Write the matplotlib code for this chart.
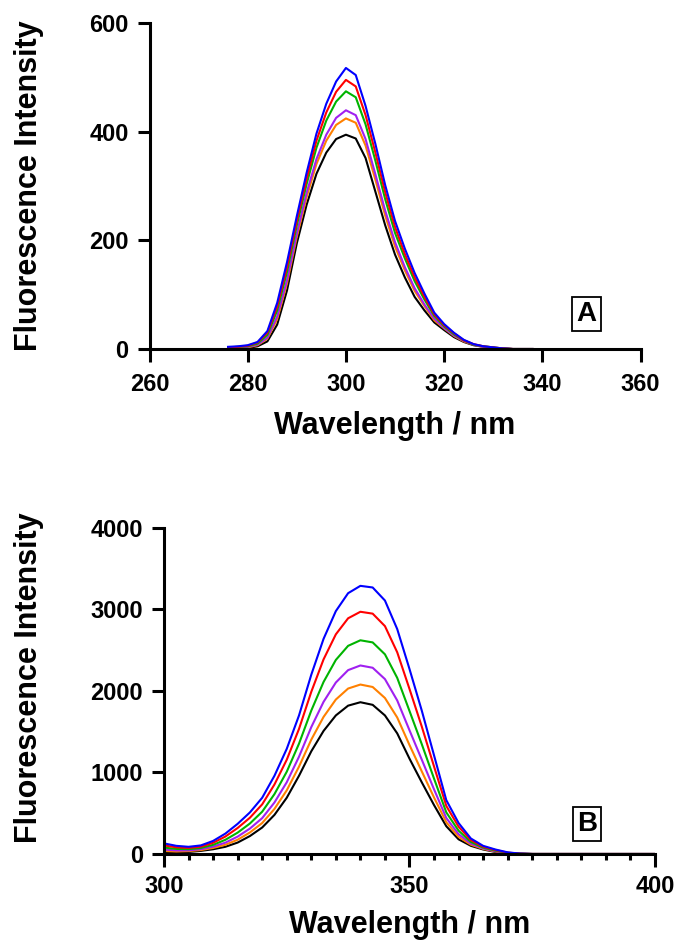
"""
Fluorescence emission spectra, panel A (275-337 nm) and panel B (300-400 nm).
"""
import numpy as np
import matplotlib

matplotlib.use("Agg")
import matplotlib.pyplot as plt
from matplotlib.ticker import MultipleLocator

plt.rcParams["font.family"] = ["Liberation Sans", "DejaVu Sans"]
plt.rcParams["font.weight"] = "bold"

# panel A, sampled every 2 nm
wavelength_a = np.arange(276, 339, 2)
black_a = [1, 1, 2, 5, 14, 45, 108, 195, 266, 323, 362, 387, 395,
           388, 352, 290, 228, 174, 132, 96, 71, 49, 35, 22, 13, 7, 4, 2, 1, 0, 0, 0]
orange_a = [2, 2, 3, 7, 19, 55, 121, 207, 280, 341, 384, 413, 425,
            417, 375, 312, 246, 189, 145, 107, 79, 53, 38, 24, 14, 8, 4, 2, 1, 0, 0, 0]
purple_a = [2, 3, 4, 8, 21, 60, 127, 213, 288, 350, 395, 426, 440,
            431, 387, 322, 255, 197, 151, 112, 82, 56, 39, 25, 15, 8, 4, 2, 1, 0, 0, 0]
green_a = [3, 4, 5, 10, 26, 71, 142, 228, 304, 371, 421, 456, 475,
           464, 414, 347, 276, 214, 167, 125, 91, 61, 42, 27, 16, 8, 5, 3, 1, 0, 0, 0]
red_a = [3, 4, 6, 12, 30, 78, 151, 236, 314, 384, 436, 474, 496,
         484, 431, 362, 289, 225, 175, 132, 96, 64, 44, 29, 16, 9, 5, 3, 1, 0, 0, 0]
blue_a = [4, 5, 7, 13, 33, 85, 160, 245, 325, 397, 452, 493, 518,
          505, 448, 378, 302, 236, 185, 140, 102, 67, 46, 30, 17, 9, 5, 3, 1, 0, 0, 0]

# panel B, sampled every 2.5 nm
wavelength_b = np.arange(300, 400.1, 2.5)
black_b = [20, 18, 25, 38, 58, 88, 140, 220, 325, 480, 690, 960, 1260, 1510,
           1700, 1820, 1862, 1830, 1700, 1480, 1170, 880, 600, 340, 180, 100,
           55, 25, 8, 2, 0, 0, 0, 0, 0, 0, 0, 0, 0, 0, 0]
orange_b = [37, 30, 35, 48, 74, 113, 175, 264, 380, 553, 781, 1072, 1403, 1682,
            1895, 2030, 2079, 2049, 1914, 1675, 1337, 1014, 693, 389, 210, 114,
            62, 30, 10, 2, 0, 0, 0, 0, 0, 0, 0, 0, 0, 0, 0]
purple_b = [55, 44, 45, 59, 90, 139, 213, 312, 440, 632, 880, 1194, 1557, 1867,
            2104, 2256, 2313, 2285, 2146, 1884, 1518, 1158, 793, 441, 243, 128,
            69, 34, 12, 3, 0, 0, 0, 0, 0, 0, 0, 0, 0, 0, 0]
green_b = [79, 62, 59, 74, 112, 174, 262, 374, 519, 735, 1009, 1354, 1760, 2111,
           2381, 2554, 2622, 2596, 2450, 2161, 1755, 1348, 925, 510, 286, 148,
           79, 41, 14, 4, 0, 0, 0, 0, 0, 0, 0, 0, 0, 0, 0]
red_b = [105, 82, 74, 90, 137, 214, 319, 445, 609, 853, 1156, 1535, 1990, 2388,
         2695, 2892, 2972, 2949, 2796, 2475, 2025, 1564, 1074, 589, 335, 170,
         90, 48, 17, 4, 0, 0, 0, 0, 0, 0, 0, 0, 0, 0, 0]
blue_b = [130, 100, 88, 105, 160, 250, 370, 510, 690, 960, 1290, 1700, 2200, 2640,
          2980, 3200, 3290, 3270, 3110, 2760, 2270, 1760, 1210, 660, 380, 190,
          100, 55, 20, 5, 0, 0, 0, 0, 0, 0, 0, 0, 0, 0, 0]

colors = ["black", "#ff8000", "#a020f0", "#00b400", "#ff0000", "#0000ff"]


def style_axis(axis, xlim, ylim, xstep, ystep, xpad):
    """Ejes en forma de L con ticks gruesos hacia afuera."""
    axis.set_xlim(*xlim)
    axis.set_ylim(*ylim)
    axis.xaxis.set_major_locator(MultipleLocator(xstep))
    axis.yaxis.set_major_locator(MultipleLocator(ystep))
    for side in ("top", "right"):
        axis.spines[side].set_visible(False)
    for side in ("left", "bottom"):
        axis.spines[side].set_linewidth(2.2)
    axis.tick_params(which="major", direction="out", length=9, width=2.2,
                     labelsize=17, pad=6)
    axis.tick_params(axis="x", which="major", pad=xpad)


def draw_panel(axis, x, series, letter, box_pos):
    for values, color in zip(series, colors):
        axis.plot(x, values, color=color, linewidth=1.5, solid_joinstyle="round")
    axis.text(box_pos[0], box_pos[1], letter, transform=axis.transAxes,
              ha="center", va="center", fontsize=20, fontweight="bold",
              bbox=dict(boxstyle="square,pad=0.15", fc="white", ec="black", lw=1.3))


fig = plt.figure(figsize=(6.76, 9.43), dpi=100)

ax_a = fig.add_axes([0.2212, 0.6299, 0.7263, 0.3452])
style_axis(ax_a, (260, 360), (0, 600), 20, 200, 8)
draw_panel(ax_a, wavelength_a,
           [black_a, orange_a, purple_a, green_a, red_a, blue_a], "A", (0.89, 0.107))

ax_b = fig.add_axes([0.2426, 0.0944, 0.7263, 0.3457])
style_axis(ax_b, (300, 400), (0, 4000), 50, 1000, 6)
ax_b.xaxis.set_minor_locator(MultipleLocator(5))
ax_b.tick_params(which="minor", direction="out", length=4.5, width=2.2)
draw_panel(ax_b, wavelength_b,
           [black_b, orange_b, purple_b, green_b, red_b, blue_b], "B", (0.861, 0.092))

label_font = dict(fontsize=22, fontweight="bold")
fig.text(0.5843, 1 - 434 / 943, "Wavelength / nm", ha="center", va="baseline", **label_font)
fig.text(0.6058, 1 - 933 / 943, "Wavelength / nm", ha="center", va="baseline", **label_font)
fig.text(37 / 676, 1 - 185.5 / 943, "Fluorescence Intensity", rotation=90,
         rotation_mode="anchor", ha="center", va="baseline", **label_font)
fig.text(37 / 676, 1 - 678 / 943, "Fluorescence Intensity", rotation=90,
         rotation_mode="anchor", ha="center", va="baseline", **label_font)

fig.savefig("out.png", dpi=100)
